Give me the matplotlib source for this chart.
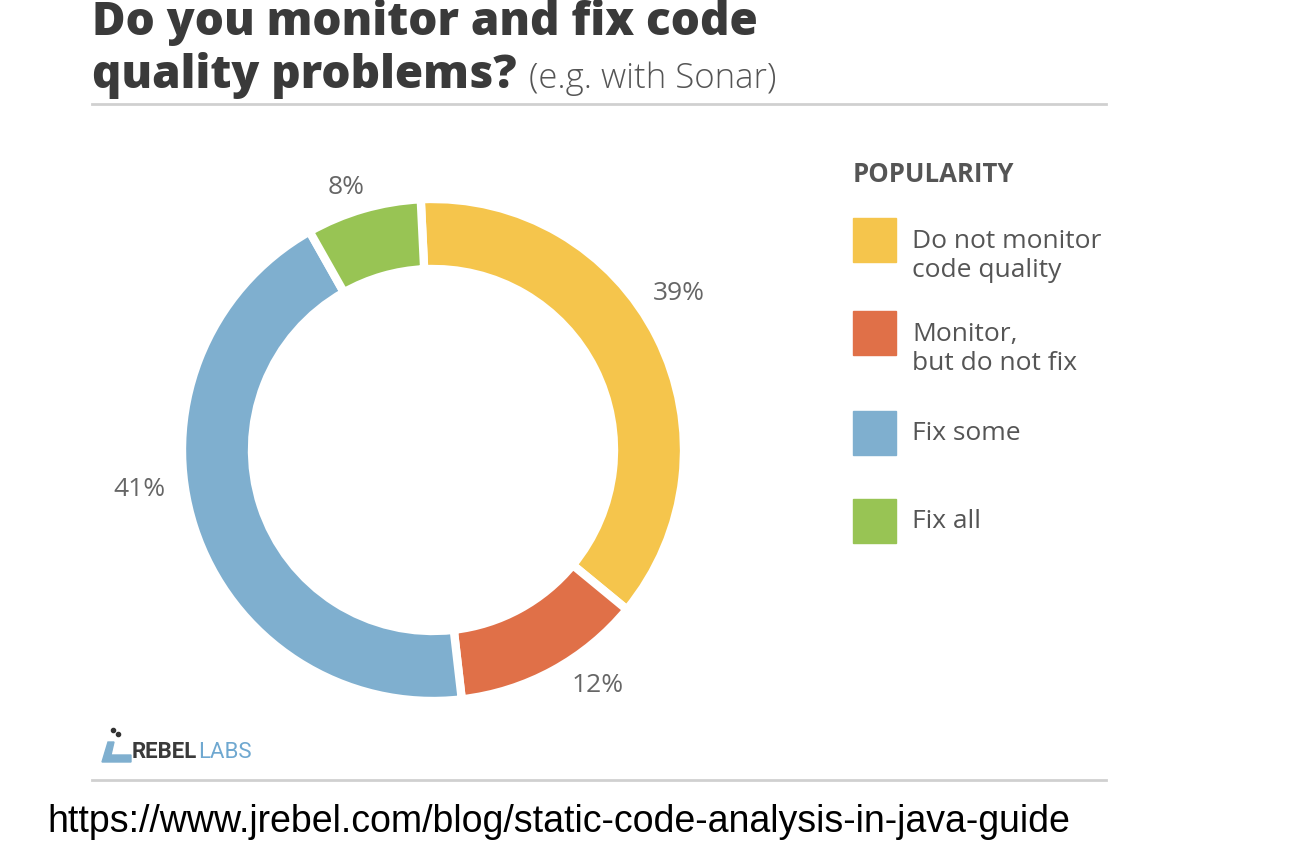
import matplotlib.pyplot as plt
from matplotlib.patches import Rectangle, Polygon

W, H = 1306, 852

labels = ["Do not monitor\ncode quality", "Monitor,\nbut do not fix", "Fix some", "Fix all"]
shares = [39, 12, 41, 8]
# arc sizes as actually drawn in the picture (they don't quite follow the labels)
arc_shares = [36.7, 12.2, 43.6, 7.4]
colors = ["#F5C54C", "#E07048", "#7FAFCF", "#98C454"]
pct_pos = [(679, 293), (598, 685), (139, 490), (346, 187)]

plt.rcParams["font.family"] = ["Open Sans", "DejaVu Sans"]

fig = plt.figure(figsize=(W / 100, H / 100), dpi=100)
ax = fig.add_axes([0, 0, 1, 1])

def Y(y):
    return H - y

# donut
ax.pie(arc_shares, colors=colors, startangle=92.8, counterclock=False,
       center=(433, Y(450)), radius=251, frame=True,
       wedgeprops=dict(width=70, edgecolor="white", linewidth=6))
ax.set_xlim(0, W)
ax.set_ylim(0, H)
ax.set_aspect("equal")
ax.axis("off")

for s, (x, y) in zip(shares, pct_pos):
    ax.text(x, Y(y), f"{s}%", fontsize=19, color="#666666", ha="center", va="center")

# title
ax.text(92, Y(35), "Do you monitor and fix code", fontsize=33, fontweight="heavy",
        color="#3a3a3a", ha="left", va="baseline")
t = ax.text(92, Y(88), "quality problems?", fontsize=33, fontweight="heavy",
            color="#3a3a3a", ha="left", va="baseline")
fig.canvas.draw()
bb = t.get_window_extent()
ax.text(bb.x1 + 12, Y(88), "(e.g. with Sonar)", fontsize=25, fontweight="light",
        color="#555555", ha="left", va="baseline")

ax.plot([92, 1106], [Y(104), Y(104)], color="#d0d0d0", lw=2)
ax.plot([92, 1106], [Y(780), Y(780)], color="#d0d0d0", lw=2)

# legend
ax.text(853, Y(175), "POPULARITY", fontsize=18.5, fontweight="bold", color="#555555",
        ha="left", va="center")
sw_y = [240, 333, 433, 521]
for lab, c, y in zip(labels, colors, sw_y):
    ax.add_patch(Rectangle((853, Y(y) - 22), 43, 44, color=c))
    ty = Y(y + 16) if "\n" in lab else Y(y)
    ax.text(912, ty, lab, fontsize=19, color="#555555", ha="left", va="center",
            linespacing=1.2)

# logo
ax.add_patch(Polygon([(108, Y(742)), (114, Y(742)), (111, Y(755)), (131, Y(755)),
                      (131, Y(762)), (102, Y(762))], closed=True, color="#7FAFCF"))
ax.plot([113, 118], [Y(730), Y(734)], "o", color="#333333", ms=3)
t2 = ax.text(132, Y(752), "REBEL", fontsize=16, fontweight="bold", family=["Roboto"],
             color="#3a3a3a", ha="left", va="center")
fig.canvas.draw()
bb2 = t2.get_window_extent()
ax.text(bb2.x1 + 1, Y(752), "LABS", fontsize=16, family=["Roboto"], color="#6fa8d0",
        ha="left", va="center")

# source
ax.text(47, Y(822), "https://www.jrebel.com/blog/static-code-analysis-in-java-guide",
        fontsize=27, family=["Liberation Sans"], color="black", ha="left", va="center")

fig.savefig("out.png", dpi=100, facecolor="white")
